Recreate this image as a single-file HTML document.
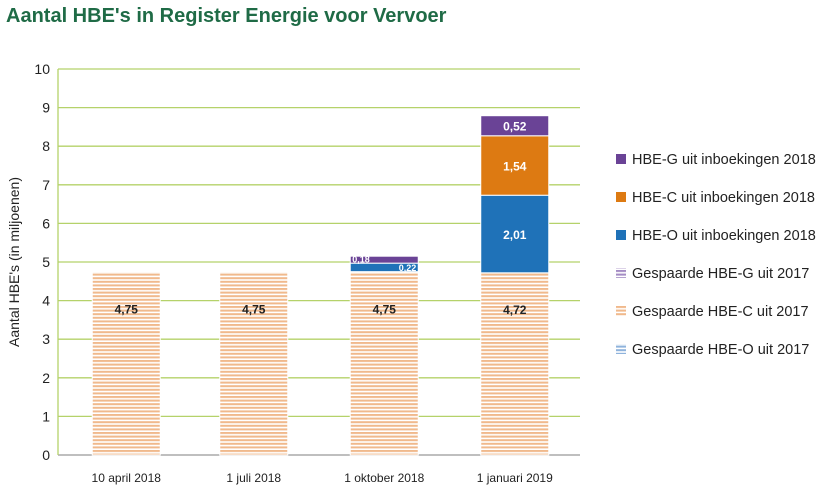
<!DOCTYPE html>
<html><head><meta charset="utf-8"><style>
body{margin:0;background:#fff;font-family:"Liberation Sans",sans-serif}
</style></head><body>
<svg width="830" height="486" viewBox="0 0 830 486" xmlns="http://www.w3.org/2000/svg">
<defs>
<pattern id="pC" width="4" height="3.6" patternUnits="userSpaceOnUse"><rect width="4" height="3.6" fill="#fff"/><rect width="4" height="2" fill="#f0b98c"/></pattern>
<pattern id="pG" width="4" height="3.6" patternUnits="userSpaceOnUse"><rect width="4" height="3.6" fill="#fff"/><rect width="4" height="2" fill="#a48cc4"/></pattern>
<pattern id="pO" width="4" height="3.6" patternUnits="userSpaceOnUse"><rect width="4" height="3.6" fill="#fff"/><rect width="4" height="2" fill="#8fb3dc"/></pattern>
</defs>
<text x="6" y="22" font-size="20" font-weight="bold" fill="#1f6b46">Aantal HBE's in Register Energie voor Vervoer</text>
<text transform="translate(19,262) rotate(-90)" text-anchor="middle" font-size="14" fill="#222">Aantal HBE's (in miljoenen)</text>
<g id="grid"></g><g id="bars"></g><g id="legend"></g>
</svg>
<script>
const categories=["10 april 2018","1 juli 2018","1 oktober 2018","1 januari 2019"];
const savedC=[4.75,4.75,4.75,4.72];
const newO=[0,0,0.22,2.01];
const newC=[0,0,0,1.54];
const newG=[0,0,0.18,0.52];
const yTicks=[0,1,2,3,4,5,6,7,8,9,10];
const NS="http://www.w3.org/2000/svg";
const x0=58,x1=580,y0=455,yTop=69,ymax=10;
const y=v=>y0-(v/ymax)*(y0-yTop);
const band=(x1-x0)/categories.length;
const bw=68;
const cx=i=>x0+band*(i+0.5)+(i===0?3:0);
function mk(t,a,p,txt){const e=document.createElementNS(NS,t);for(const k in a)e.setAttribute(k,a[k]);if(txt!=null)e.textContent=txt;p.appendChild(e);return e;}
const g=document.getElementById('grid');
yTicks.forEach(t=>{
 const l=mk('line',{x1:x0,x2:x1,y1:y(t),y2:y(t),stroke:t===0?'#999':'#b5d26a','stroke-width':1.3},g);
 
 
 const tx=mk('text',{x:50,y:y(t)+5,'text-anchor':'end','font-size':14,fill:'#222'},g,String(t));
 
 
});
const ax=mk('line',{x1:x0,x2:x0,y1:yTop,y2:y0,stroke:'#b5d26a','stroke-width':1.3},g);


const b=document.getElementById('bars');
const fmt=v=>v.toFixed(2).replace('.',',');
categories.forEach((c,i)=>{
 const xc=cx(i),xl=xc-bw/2;
 const cl=mk('text',{x:xc,y:482,'text-anchor':'middle','font-size':12,fill:'#222'},b,c);
 
 
 const segs=[[savedC[i],'url(#pC)','saved-c'],[newO[i],'#1f72b8','new-o'],[newC[i],'#dd7a12','new-c'],[newG[i],'#6a4396','new-g']];
 let acc=0;
 segs.forEach((s,k)=>{
  if(s[0]<=0)return;
  const top=y(acc+s[0]),bot=y(acc);
  const r=mk('rect',{x:xl,y:top,width:bw,height:Math.max(0,bot-top),fill:s[1],stroke:'#fff','stroke-width':1},b);
  
  
  let lx=xc,ly=(top+bot)/2+5,fs=12,col=k===0?'#222':'#fff',anchor='middle';
  if(k===0)ly=y(s[0]*0.8)+5;
  if(s[0]<0.4){fs=9;ly=bot-0.5;if(k===1){lx=xl+bw-2;anchor='end';}else{lx=xl+2;anchor='start';}}
  const t=mk('text',{x:lx,y:ly,'text-anchor':anchor,'font-size':fs,'font-weight':'bold',fill:col},b,fmt(s[0]));
  
  
  acc+=s[0];
 });
});
const leg=[['HBE-G uit inboekingen 2018','#6a4396'],['HBE-C uit inboekingen 2018','#dd7a12'],['HBE-O uit inboekingen 2018','#1f72b8'],['Gespaarde HBE-G uit 2017','url(#pG)'],['Gespaarde HBE-C uit 2017','url(#pC)'],['Gespaarde HBE-O uit 2017','url(#pO)']];
const L=document.getElementById('legend');
leg.forEach((e,i)=>{
 const yy=163+i*38;
 const r=mk('rect',{x:616,y:yy-9,width:10,height:10,fill:e[1]},L);
 
 
 const t=mk('text',{x:632,y:yy+1,'font-size':14.5,fill:'#222'},L,e[0]);
 
 
});
</script>
</body></html>
